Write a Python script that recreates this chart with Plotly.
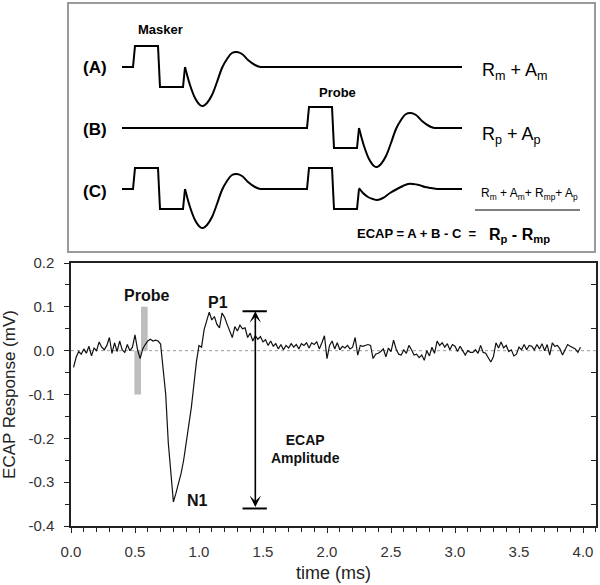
import plotly.graph_objects as go

# ---------------- ECAP recording (bottom panel) ----------------
ecap_mv = [
    -0.038, -0.015, -0.002, -0.008, 0.004, -0.006, 0.010, -0.012, 0.006, 0.000,
    0.020, 0.008, 0.002, 0.012, 0.030, -0.006, 0.018, -0.002, 0.022, 0.002,
    -0.004, 0.014, 0.000, 0.008, 0.036, 0.002, -0.018, 0.004, 0.014, 0.022,
    0.026, 0.022, 0.024, 0.022, 0.015, -0.040, -0.100, -0.210, -0.270, -0.345,
    -0.325, -0.305, -0.280, -0.250, -0.205, -0.170, -0.130, -0.075, -0.025, 0.012,
    0.008, 0.048, 0.070, 0.088, 0.070, 0.078, 0.060, 0.052, 0.086, 0.076,
    0.060, 0.045, 0.030, 0.055, 0.045, 0.058, 0.050, 0.052, 0.030, 0.040,
    0.022, 0.034, 0.026, 0.032, 0.020, 0.025, 0.012, 0.022, 0.010, 0.016,
    0.004, 0.014, 0.002, 0.012, 0.006, 0.016, 0.008, 0.014, 0.004, 0.016,
    0.012, 0.018, 0.006, 0.018, 0.014, 0.020, 0.004, 0.018, 0.034, -0.018,
    0.012, 0.022, 0.004, 0.018, 0.002, 0.010, 0.006, 0.012, 0.004, 0.008,
    0.030, -0.010, 0.012, 0.010, 0.012, 0.014, 0.012, -0.018, -0.008, -0.006,
    -0.002, 0.004, -0.014, 0.006, -0.002, 0.024, 0.004, -0.008, -0.010, 0.002,
    -0.006, 0.012, 0.002, -0.010, -0.008, -0.016, -0.010, -0.022, 0.000, -0.012,
    0.008, -0.006, 0.022, 0.012, 0.018, 0.008, 0.016, 0.002, 0.014, 0.010,
    -0.002, 0.010, 0.000, -0.010, 0.000, -0.004, -0.004, 0.002, -0.006, 0.012,
    -0.004, -0.006, -0.016, -0.026, -0.014, 0.018, 0.006, 0.020, 0.006, 0.012,
    -0.002, 0.002, -0.012, -0.008, 0.008, 0.002, 0.014, 0.002, 0.012, 0.010,
    0.002, 0.014, 0.004, 0.016, 0.000, 0.014, -0.010, 0.018, 0.010, 0.012,
    0.004, -0.010, 0.002, 0.014, 0.010, 0.006, 0.004, -0.004, 0.008,
]
sample_step_ms = 0.02
time_ms = [round(sample_step_ms * (i + 1), 2) for i in range(len(ecap_mv))]

x_tick_vals = [0.0, 0.5, 1.0, 1.5, 2.0, 2.5, 3.0, 3.5, 4.0]
x_tick_text = ["0.0", "0.5", "1.0", "1.5", "2.0", "2.5", "3.0", "3.5", "4.0"]
y_tick_vals = [-0.4, -0.3, -0.2, -0.1, 0.0, 0.1, 0.2]
y_tick_text = ["-0.4", "-0.3", "-0.2", "-0.1", "0.0", "0.1", "0.2"]
y_right_ticks = [-0.35, -0.25, -0.15, -0.05, 0.05, 0.15]

probe_bar_t = [0.495, 0.547, 0.599]     # biphasic probe marker edges (ms)
probe_bar_mv = [-0.1, 0.1]              # phase amplitudes (mV)
amp_arrow_t = 1.44
amp_arrow_mv = [-0.36, 0.09]            # N1 level, P1 level
amp_cap_t = [1.34, 1.53]

# ---------------- Schematic (top panel) ----------------
pulse_dx = [0, 2, 25, 27, 50, 52]
pulse_amp = [0, 21, 21, -20, -20, 0]
resp_dx = [0, 5, 10, 15, 18, 22, 27, 32, 37, 42, 47, 52, 57, 63, 70, 75]
resp_amp = [0, -18, -31, -38, -39, -36, -28, -15, -1, 8, 14, 15, 13, 7, 2, 0]
resid_dx = [0, 4, 9, 14, 18, 24, 31, 38, 44, 49, 54, 60, 66, 72, 78]
resid_amp = [1, -4, -8, -10, -11, -9, -4, 0, 3, 5, 5, 4, 2, 1, 0]
masker_onset = 133
probe_onset = 307
sweep_start, sweep_end = 122, 462
row_base = {"A": 67, "B": 128, "C": 189}

FONT = "Liberation Sans, Arial, sans-serif"
fig = go.Figure()


def add_line(xs, ys, base, shape="linear"):
    fig.add_trace(go.Scatter(
        x=xs, y=[None if v is None else base - v for v in ys],
        mode="lines", line=dict(color="black", width=2, shape=shape),
        xaxis="x2", yaxis="y2", showlegend=False, hoverinfo="skip",
        connectgaps=False))


def pulse(onset):
    return [onset + d for d in pulse_dx], list(pulse_amp)


def response(spike, dxs, amps):
    return [spike + d for d in dxs], list(amps)


m_px, m_py = pulse(masker_onset)
p_px, p_py = pulse(probe_onset)
m_spike = m_px[-1]
p_spike = p_px[-1]
mr_x, mr_y = response(m_spike, resp_dx, resp_amp)
pr_x, pr_y = response(p_spike, resp_dx, resp_amp)
rr_x, rr_y = response(p_spike, resid_dx, resid_amp)

# Row A
add_line([sweep_start] + m_px + [None, mr_x[-1], sweep_end],
         [0] + m_py + [None, 0, 0], row_base["A"])
add_line(mr_x, mr_y, row_base["A"], "spline")
# Row B
add_line([sweep_start] + p_px + [None, pr_x[-1], sweep_end],
         [0] + p_py + [None, 0, 0], row_base["B"])
add_line(pr_x, pr_y, row_base["B"], "spline")
# Row C
add_line([sweep_start] + m_px + [None, mr_x[-1]] + p_px + [None, rr_x[-1], sweep_end],
         [0] + m_py + [None, 0] + p_py + [None, 0, 0], row_base["C"])
add_line(mr_x, mr_y, row_base["C"], "spline")
add_line(rr_x, rr_y, row_base["C"], "spline")

# ---------------- ECAP trace ----------------
fig.add_trace(go.Scatter(
    x=time_ms, y=ecap_mv, mode="lines",
    line=dict(color="#111111", width=1.2),
    xaxis="x", yaxis="y", showlegend=False, hoverinfo="skip"))
# invisible anchor trace for the right-side tick axis
fig.add_trace(go.Scatter(x=[time_ms[0]], y=[ecap_mv[0]], xaxis="x", yaxis="y3",
                         mode="markers", marker=dict(opacity=0),
                         showlegend=False, hoverinfo="skip"))

shapes = [
    dict(type="line", xref="x domain", yref="y", x0=0, x1=1, y0=0, y1=0,
         line=dict(color="#9a9a9a", width=1, dash="dot"), layer="below"),
    dict(type="rect", xref="x", yref="y", x0=probe_bar_t[0], x1=probe_bar_t[1],
         y0=probe_bar_mv[0], y1=0, fillcolor="#bdbdbd", line=dict(width=0), layer="below"),
    dict(type="rect", xref="x", yref="y", x0=probe_bar_t[1], x1=probe_bar_t[2],
         y0=0, y1=probe_bar_mv[1], fillcolor="#bdbdbd", line=dict(width=0), layer="below"),
    dict(type="line", xref="x", yref="y", x0=amp_cap_t[0], x1=amp_cap_t[1],
         y0=amp_arrow_mv[1], y1=amp_arrow_mv[1], line=dict(color="black", width=2)),
    dict(type="line", xref="x", yref="y", x0=amp_cap_t[0], x1=amp_cap_t[1],
         y0=amp_arrow_mv[0], y1=amp_arrow_mv[0], line=dict(color="black", width=2)),
    # underline in schematic
    dict(type="line", xref="x2", yref="y2", x0=475, x1=580, y0=210, y1=210,
         line=dict(color="black", width=1.2)),
]

annotations = [
    # double-headed amplitude arrow
    dict(x=amp_arrow_t, y=amp_arrow_mv[1], ax=amp_arrow_t, ay=amp_arrow_mv[0],
         xref="x", yref="y", axref="x", ayref="y", showarrow=True, text="",
         arrowhead=3, arrowside="end+start", arrowsize=1.2, arrowwidth=1.6,
         arrowcolor="black"),
    dict(x=0.586, y=0.125, xref="x", yref="y", text="<b>Probe</b>", showarrow=False,
         font=dict(family=FONT, size=16, color="#111")),
    dict(x=1.145, y=0.111, xref="x", yref="y", text="<b>P1</b>", showarrow=False,
         font=dict(family=FONT, size=16, color="#111")),
    dict(x=0.985, y=-0.341, xref="x", yref="y", text="<b>N1</b>", showarrow=False,
         font=dict(family=FONT, size=16, color="#111")),
    dict(x=1.83, y=-0.225, xref="x", yref="y", text="<b>ECAP<br>Amplitude</b>",
         showarrow=False, align="center",
         font=dict(family=FONT, size=14, color="#111")),
    # schematic labels
    dict(x=109, y=68, xref="x2", yref="y2", text="<b>(A)</b>", showarrow=False,
         xanchor="right", font=dict(family=FONT, size=17, color="black")),
    dict(x=109, y=129, xref="x2", yref="y2", text="<b>(B)</b>", showarrow=False,
         xanchor="right", font=dict(family=FONT, size=17, color="black")),
    dict(x=109, y=191, xref="x2", yref="y2", text="<b>(C)</b>", showarrow=False,
         xanchor="right", font=dict(family=FONT, size=17, color="black")),
    dict(x=160, y=30, xref="x2", yref="y2", text="<b>Masker</b>", showarrow=False,
         font=dict(family=FONT, size=13, color="black")),
    dict(x=337, y=93, xref="x2", yref="y2", text="<b>Probe</b>", showarrow=False,
         font=dict(family=FONT, size=13, color="black")),
    dict(x=480, y=72, xref="x2", yref="y2", text="R<sub>m</sub> + A<sub>m</sub>",
         showarrow=False, xanchor="left", font=dict(family=FONT, size=18, color="black")),
    dict(x=480, y=135, xref="x2", yref="y2", text="R<sub>p</sub> + A<sub>p</sub>",
         showarrow=False, xanchor="left", font=dict(family=FONT, size=18, color="black")),
    dict(x=479, y=194, xref="x2", yref="y2",
         text="R<sub>m</sub> + A<sub>m</sub>+ R<sub>mp</sub>+ A<sub>p</sub>",
         showarrow=False, xanchor="left", font=dict(family=FONT, size=12, color="black")),
    dict(x=478, y=233, xref="x2", yref="y2", text="<b>ECAP = A + B - C  =</b>",
         showarrow=False, xanchor="right", font=dict(family=FONT, size=13, color="black")),
    dict(x=487, y=235, xref="x2", yref="y2", text="<b>R<sub>p</sub> - R<sub>mp</sub></b>",
         showarrow=False, xanchor="left", font=dict(family=FONT, size=16, color="black")),
]

AX = "#222222"
fig.update_layout(
    width=600, height=585,
    margin=dict(l=0, r=0, t=0, b=0),
    paper_bgcolor="white", plot_bgcolor="rgba(0,0,0,0)",
    font=dict(family=FONT, color="#333333"),
    showlegend=False,
    shapes=shapes, annotations=annotations,
    xaxis=dict(
        domain=[71 / 600, 595.8 / 600], range=[0, 4.1], anchor="y",
        tickmode="array", tickvals=x_tick_vals, ticktext=x_tick_text,
        ticks="outside", ticklen=5, tickwidth=1.3, tickcolor=AX,
        minor=dict(tickmode="linear", tick0=0, dtick=0.1, ticks="outside",
                   ticklen=4, tickwidth=1.1, tickcolor=AX),
        showline=True, linecolor=AX, linewidth=1.5, mirror=True,
        showgrid=False, zeroline=False, automargin=False,
        tickfont=dict(family=FONT, size=15, color="#333333"),
        ticklabelstandoff=6,
        title=dict(text="time (ms)", font=dict(family=FONT, size=18, color="#222222"),
                   standoff=8),
    ),
    yaxis=dict(
        domain=[(585 - 526) / 585, (585 - 263) / 585], range=[-0.4, 0.2], anchor="x",
        tickmode="array", tickvals=y_tick_vals, ticktext=y_tick_text,
        ticks="outside", ticklen=5, tickwidth=1.3, tickcolor=AX,
        minor=dict(tickmode="linear", tick0=0, dtick=0.05, ticks="outside",
                   ticklen=4, tickwidth=1.1, tickcolor=AX),
        showline=True, linecolor=AX, linewidth=1.5, mirror=True,
        showgrid=False, zeroline=False, automargin=False,
        tickfont=dict(family=FONT, size=15, color="#333333"),
        ticklabelstandoff=7,
        title=dict(text="ECAP Response (mV)", font=dict(family=FONT, size=17, color="#222222"),
                   standoff=12),
    ),
    yaxis3=dict(
        overlaying="y", side="right", anchor="x", range=[-0.4, 0.2],
        tickmode="array", tickvals=y_right_ticks, ticks="inside", ticklen=5,
        tickwidth=1.2, tickcolor=AX, showticklabels=False, showline=False,
        showgrid=False, zeroline=False, automargin=False,
    ),
    xaxis2=dict(
        domain=[69 / 600, 594 / 600], range=[69, 594], anchor="y2",
        showline=True, linecolor="#9a9a9a", linewidth=1.5, mirror=True,
        showticklabels=False, ticks="", showgrid=False, zeroline=False,
    ),
    yaxis2=dict(
        domain=[(585 - 251) / 585, (585 - 4) / 585], range=[251, 4], anchor="x2",
        showline=True, linecolor="#9a9a9a", linewidth=1.5, mirror=True,
        showticklabels=False, ticks="", showgrid=False, zeroline=False,
    ),
)

fig.write_html("out.html", config={"displayModeBar": False},
               post_script="document.body.style.margin='0';document.body.style.padding='0';")
